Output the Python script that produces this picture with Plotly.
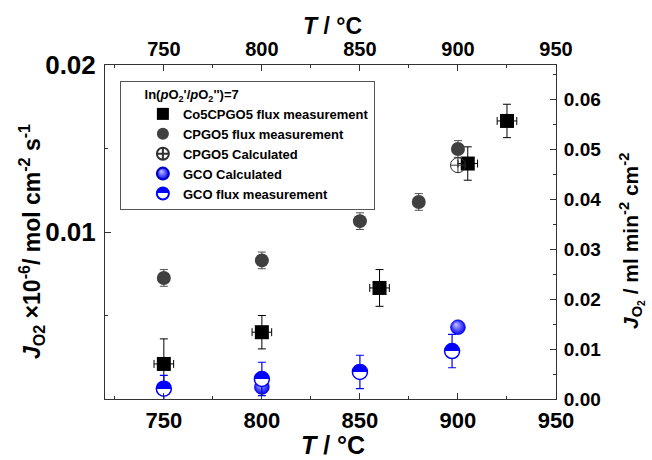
import plotly.graph_objects as go

# ---------------- data ----------------
T_co5 = [750, 800, 860, 905, 925]
J_co5 = [0.0021, 0.0040, 0.00665, 0.0141, 0.01665]
J_co5_err = [0.0015, 0.0010, 0.0011, 0.0010, 0.0010]
T_co5_err = [5, 5, 5, 5, 5]

T_cpgo = [750, 800, 850, 880, 900]
J_cpgo = [0.00725, 0.0083, 0.01065, 0.0118, 0.01497]
J_cpgo_err = [0.0005, 0.0005, 0.0005, 0.0005, 0.0005]

T_cpgo_calc = [900]
J_cpgo_calc = [0.0140]

T_gco_calc = [800, 900]
J_gco_calc = [0.00072, 0.0043]

T_gco_flux = [750, 800, 850, 897]
J_gco_flux = [0.00062, 0.0012, 0.00162, 0.00287]
J_gco_flux_err = [0.0008, 0.0010, 0.0010, 0.0010]

x_range = [720, 950]
y_left_range = [0, 0.02]
y_right_range = [0, 0.0668]
ratio = y_right_range[1] / y_left_range[1]

x_title = "<i>T</i> / °C"
y_left_title = "<i>J</i><sub>O2</sub> ×10<sup>-6</sup>/ mol cm<sup>-2</sup> s<sup>-1</sup>"
y_right_title = "<i>J</i><sub>O<sub>2</sub></sub> / ml min<sup>-2</sup> cm<sup>-2</sup>"

FONT = "Arial, Liberation Sans, sans-serif"
BLUE = "#0000ff"
AX = "#333333"
NB = "\u00a0"

fig = go.Figure()

fig.add_trace(go.Scatter(
    x=T_co5, y=J_co5, mode="markers", name="Co5CPGO5 flux measurement",
    marker=dict(symbol="square", size=14, color="black"),
    error_y=dict(type="data", array=J_co5_err, color="black", thickness=1, width=4),
    error_x=dict(type="data", array=T_co5_err, color="black", thickness=1, width=4),
))
fig.add_trace(go.Scatter(
    x=T_cpgo, y=J_cpgo, mode="markers", name="CPGO5 flux measurement",
    marker=dict(symbol="circle", size=14, color="#404040"),
    error_y=dict(type="data", array=J_cpgo_err, color="#505050", thickness=1, width=4),
))
fig.add_trace(go.Scatter(
    x=T_cpgo_calc, y=J_cpgo_calc, mode="markers", name="CPGO5 Calculated",
    marker=dict(symbol="circle-cross-open", size=15, color="#303030", line=dict(width=1)),
))
fig.add_trace(go.Scatter(
    x=T_gco_calc, y=J_gco_calc, mode="markers", name="GCO Calculated",
    marker=dict(symbol="circle", size=15, color=BLUE,
                gradient=dict(type="radial", color="#c8c8ff"),
                line=dict(width=0.5, color="#0000c0")),
))
fig.add_trace(go.Scatter(
    x=T_gco_flux, y=J_gco_flux, mode="markers", name="GCO flux measurement",
    marker=dict(symbol="circle", size=15, color=BLUE,
                gradient=dict(type="vertical", color="white"),
                line=dict(width=1.5, color=BLUE)),
    error_y=dict(type="data", array=J_gco_flux_err, color=BLUE, thickness=1.2, width=4),
))
# secondary (top / right) axes carry the same data in ml min-1 cm-2 units, invisible
fig.add_trace(go.Scatter(
    x=T_cpgo, y=[v * ratio for v in J_cpgo], xaxis="x2", yaxis="y2",
    mode="markers", marker=dict(opacity=0), showlegend=False, hoverinfo="skip",
))

common_x = dict(range=x_range, tick0=750, dtick=50, ticks="inside", ticklen=6, tickcolor=AX,
                minor=dict(dtick=25, tick0=750, ticks="inside", ticklen=3, tickcolor=AX),
                showline=True, linecolor=AX, linewidth=1, showgrid=False, zeroline=False)
common_y_minor = dict(dtick=0.005, tick0=0, ticks="inside", ticklen=3, tickcolor=AX)

fig.update_layout(
    width=652, height=460,
    margin=dict(l=105, r=96, t=65, b=61, autoexpand=False),
    paper_bgcolor="white", plot_bgcolor="white",
    font=dict(family=FONT, color="black"),
    showlegend=True,
    legend=dict(
        x=0.033, y=0.952, xanchor="left", yanchor="top",
        bordercolor="#555555", borderwidth=1, bgcolor="white",
        font=dict(family=FONT, size=13, color="black", weight="bold"),
        title=dict(text=NB * 6 + "ln(<i>p</i>O<sub>2</sub>'/<i>p</i>O<sub>2</sub>'')=7",
                   font=dict(family=FONT, size=13, color="black", weight="bold"), side="top"),
        indentation=22,
        itemsizing="constant",
    ),
    xaxis=dict(**common_x,
               tickfont=dict(family=FONT, size=22, color="black", weight="bold"), ticklabelstandoff=2),
    xaxis2=dict(**common_x, overlaying="x", side="top", anchor="y",
                tickfont=dict(family=FONT, size=20, color="black", weight="bold")),
    yaxis=dict(
        range=y_left_range, tickvals=[0.01, 0.02], ticktext=["0.01", "0.02"],
        ticks="inside", ticklen=6, tickcolor=AX, minor=common_y_minor,
        showline=True, linecolor=AX, linewidth=1, showgrid=False, zeroline=False,
        tickfont=dict(family=FONT, size=26, color="black", weight="bold"), ticklabelstandoff=3,
    ),
    yaxis2=dict(
        range=y_right_range, dtick=0.01, tick0=0, tickformat=".2f",
        overlaying="y", side="right", anchor="x",
        ticks="inside", ticklen=6, tickcolor=AX, minor=common_y_minor,
        showline=True, linecolor=AX, linewidth=1, showgrid=False, zeroline=False,
        tickfont=dict(family=FONT, size=19, color="black", weight="bold"), ticklabelstandoff=3,
    ),
    annotations=[
        dict(text=x_title, xref="paper", yref="paper", x=0.5055, y=-0.1377,
             xanchor="center", yanchor="middle", showarrow=False,
             font=dict(family=FONT, size=25, color="black", weight="bold")),
        dict(text=x_title, xref="paper", yref="paper", x=0.5055, y=1.1168,
             xanchor="center", yanchor="middle", showarrow=False,
             font=dict(family=FONT, size=23, color="black", weight="bold")),
        dict(text=y_left_title, xref="paper", yref="paper", x=-0.164, y=0.470,
             xanchor="center", yanchor="middle", showarrow=False, textangle=-90,
             font=dict(family=FONT, size=23, color="black", weight="bold")),
        dict(text=y_right_title, xref="paper", yref="paper", x=1.1663, y=0.473,
             xanchor="center", yanchor="middle", showarrow=False, textangle=-90,
             font=dict(family=FONT, size=21, color="black", weight="bold")),
    ],
)

post = """
document.body.style.margin = '0px';
function fixGrad(){
  document.querySelectorAll('linearGradient').forEach(function(g){
    var s = g.querySelectorAll('stop');
    if (s.length >= 2) { s[0].setAttribute('offset','50%'); s[s.length-1].setAttribute('offset','50%'); }
  });
  document.querySelectorAll('radialGradient').forEach(function(g){
    g.setAttribute('fx','0.35'); g.setAttribute('fy','0.3');
  });
}
fixGrad();
setTimeout(fixGrad, 50);
"""

fig.write_html("out.html", post_script=post, config={"displayModeBar": False})
